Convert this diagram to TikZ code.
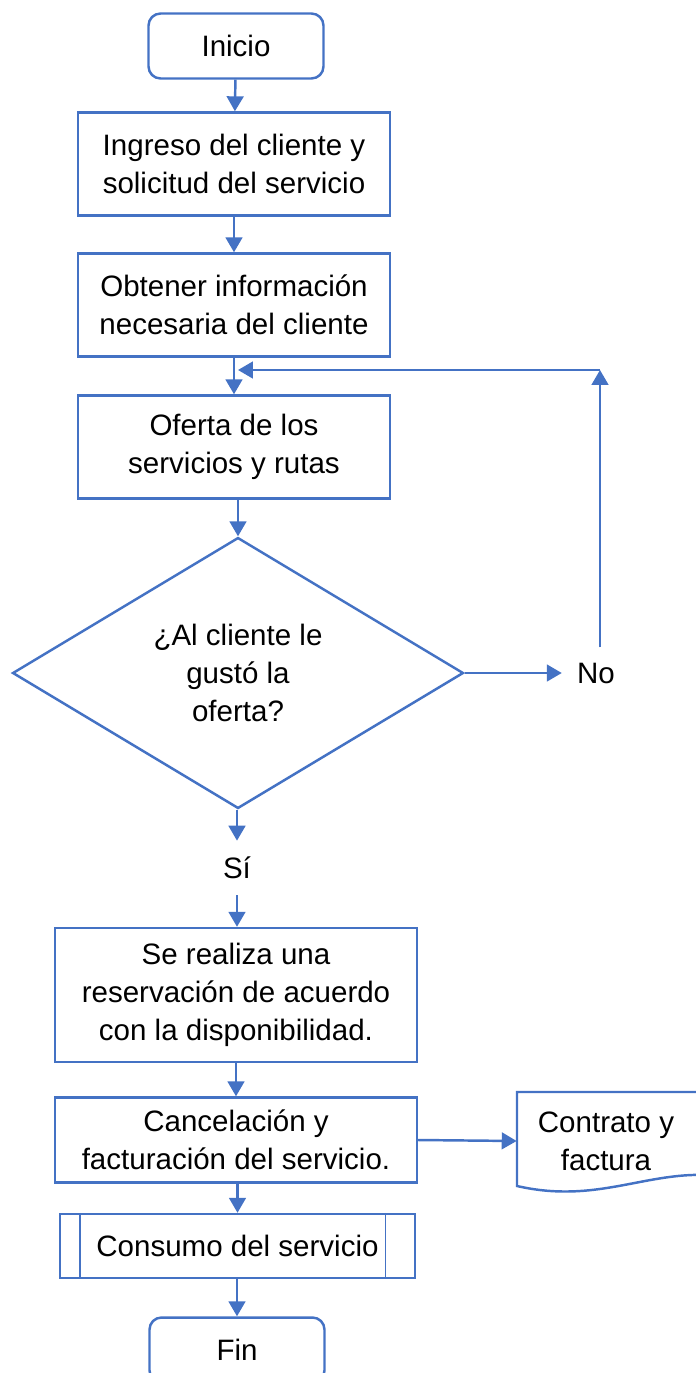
\documentclass[tikz,border=0pt]{standalone}
\usepackage{fontspec}
\setmainfont{Liberation Sans}
\usetikzlibrary{shapes.geometric,arrows.meta}
\definecolor{flowblue}{HTML}{4472C4}
\tikzset{
  line/.style={draw=flowblue,line width=1.4pt},
  box/.style={line,align=center,minimum width=6.24cm,minimum height=2.06cm,inner sep=0pt},
  term/.style={line,rounded corners=0.24cm,minimum width=3.5cm,minimum height=1.3cm},
  decision/.style={line,diamond,align=center,minimum width=9.02cm,minimum height=5.42cm,inner sep=0pt,aspect=1.66},
  arr/.style={line,-{Triangle[length=8.5pt,width=9.5pt]}},
}
\begin{document}
\begin{tikzpicture}[x=0.02cm,y=-0.02cm,font=\fontsize{16.8}{21.5}\selectfont]
\clip (0,0) rectangle (696,1373);
% main column
\node [term] (ini) at (236,46) {Inicio};
\node [box] (ing) at (234,164) {Ingreso del cliente y\\solicitud del servicio};
\node [box] (inf) at (234,305) {Obtener información\\necesaria del cliente};
\node [box] (ofe) at (234,447) {Oferta de los\\servicios y rutas};
\node [decision] (dec) at (238,673) {¿Al cliente le\\gustó la\\oferta?};
\node [minimum height=1.08cm,inner sep=0pt] (si) at (237,868) {Sí};
\node [inner sep=0.3cm] (no) at (596,673) {No};
\node [box,minimum width=7.24cm,minimum height=2.68cm] (res) at (236,995) {Se realiza una\\reservación de acuerdo\\con la disponibilidad.};
\node [box,minimum width=7.24cm,minimum height=1.7cm] (can) at (236,1140) {Cancelación y\\facturación del servicio.};
\node [line,minimum width=7.1cm,minimum height=1.28cm] (con) at (237.5,1246) {Consumo del servicio};
\node [term] (fin) at (237,1350) {Fin};
% document
\node [align=center,minimum width=3.56cm,minimum height=1.96cm,inner sep=0pt] (doc) at (606,1141) {Contrato y\\factura};
\draw [line] (517,1092) -- (720,1092) -- (720,1176)
  .. controls (650,1168) and (600,1205) .. (517,1186) -- cycle;
% subprocess bars
\draw [line,line width=0.8pt] ([xshift=0.42cm]con.north west) -- ([xshift=0.42cm]con.south west);
\draw [line,line width=0.8pt] ([xshift=-0.62cm]con.north east) -- ([xshift=-0.62cm]con.south east);
% connectors
\coordinate (back) at (600,370);
\coordinate (join) at (238,370);
\draw [arr] (ini) -- (ing);
\draw [arr] (ing.south) -- (ing.south |- inf.north);
\draw [arr] (inf.south -| ofe.north) -- (ofe.north);
\draw [arr] (ofe.south -| dec.north) -- (dec.north);
\draw [arr] (dec.south -| si.north) -- (si.north);
\draw [arr] (si.south) -- (si.south |- res.north);
\draw [arr] (dec.east) -- (no.west);
\draw [arr] (no.north -| back) -- (back);
\draw [arr] (back) -- (join);
\draw [arr] (res) -- (can);
\draw [arr] (can.east) -- (doc.west);
\draw [arr] (can.south -| con.north) -- (con.north);
\draw [arr] (con.south -| fin.north) -- (fin.north);
\end{tikzpicture}
\end{document}
